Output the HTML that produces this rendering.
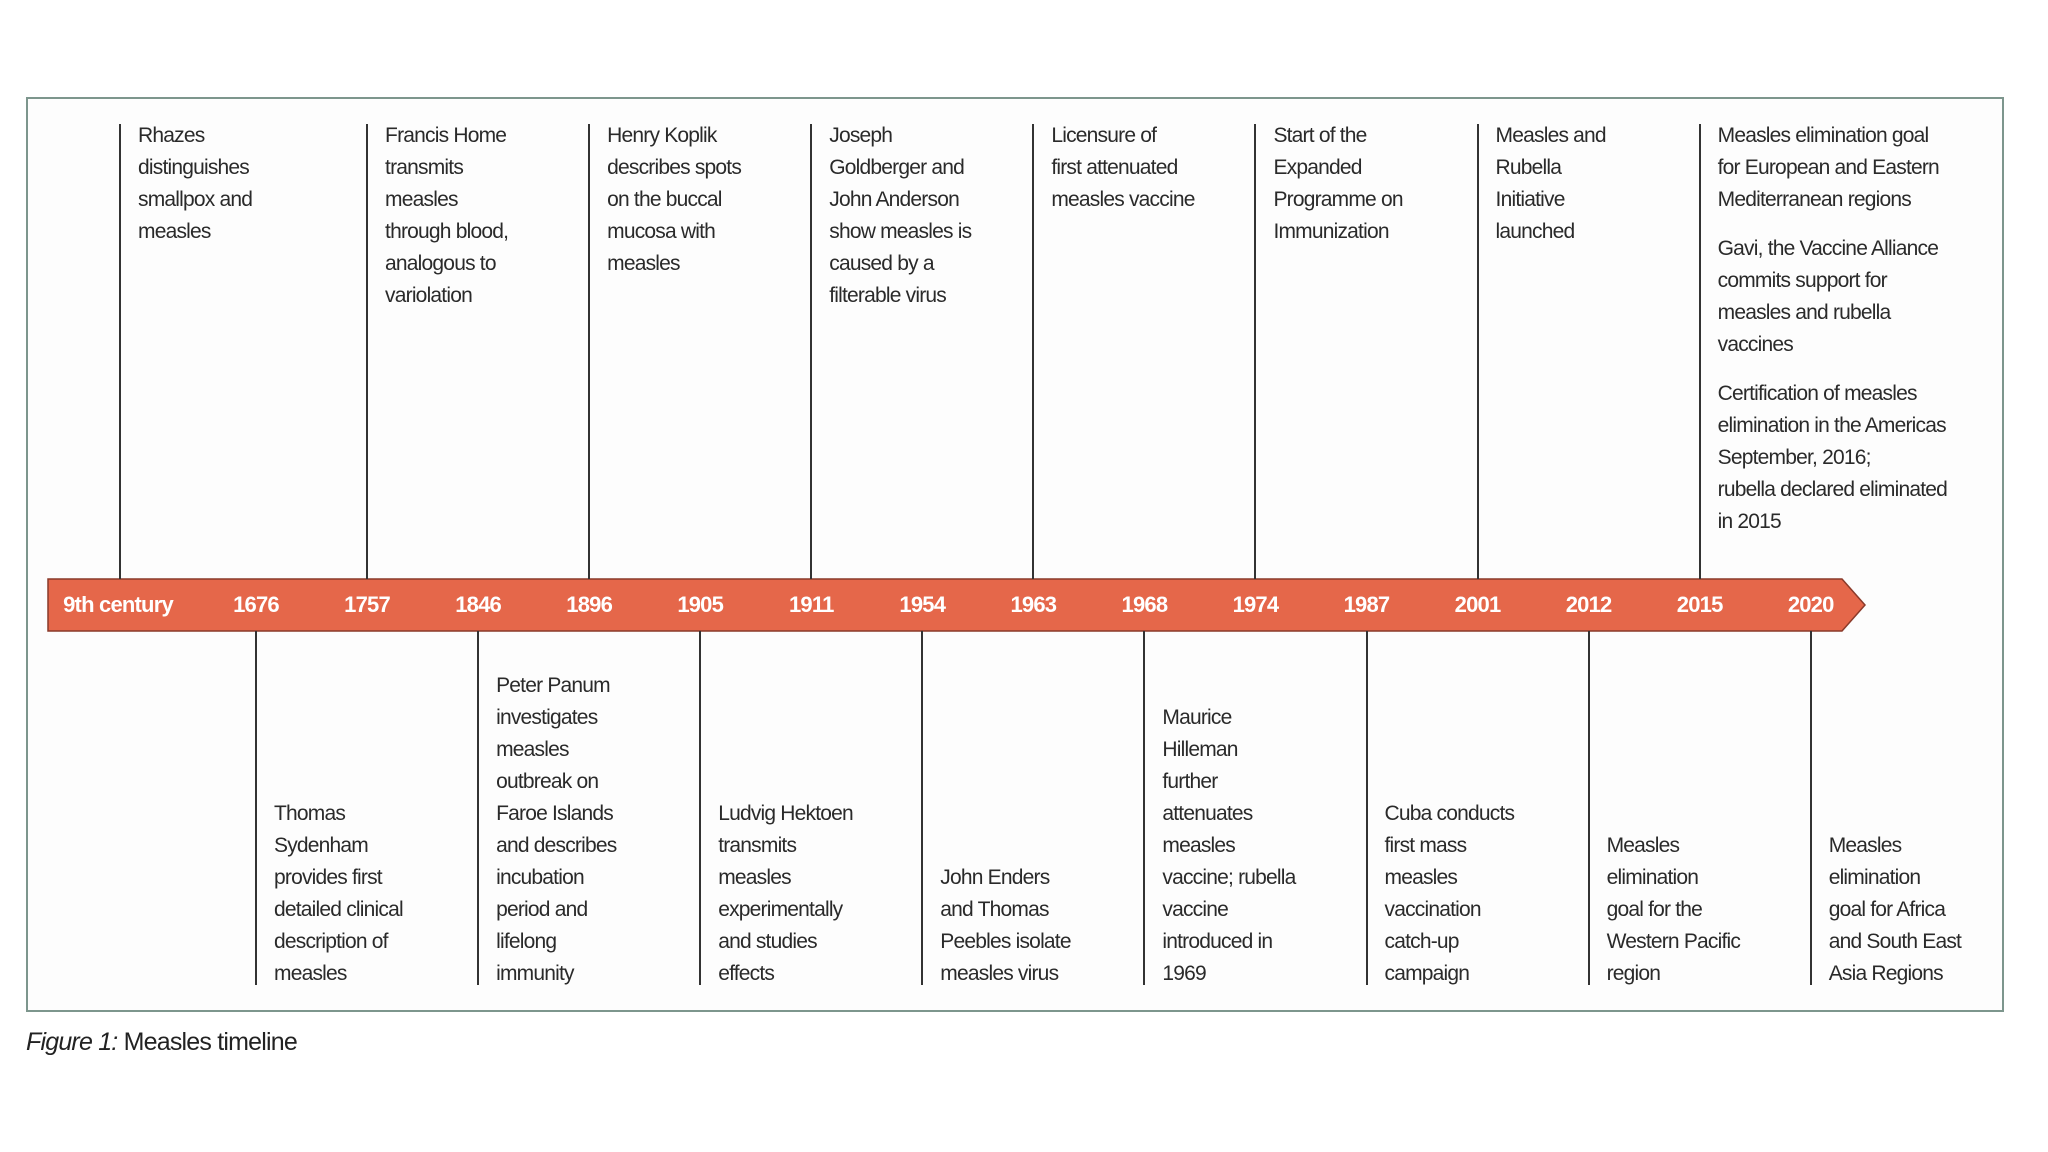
<!DOCTYPE html>
<html><head><meta charset="utf-8">
<style>
body{margin:0;width:2048px;height:1152px;background:#fff;position:relative;overflow:hidden;font-family:"Liberation Sans",sans-serif;}
#frame{position:absolute;left:26px;top:97px;width:1974px;height:911px;border:2px solid #7d968d;box-sizing:content-box;background:#fdfdfd;}
.vline{position:absolute;width:2px;background:#333;}
.ev{position:absolute;font-size:21px;letter-spacing:-0.8px;line-height:32px;color:#2a2a2a;white-space:nowrap;}
.ev p{margin:0 0 17px 0;}
.yr{position:absolute;top:579px;height:52px;line-height:52px;color:#fff;font-weight:bold;font-size:22px;letter-spacing:-0.8px;transform:translateX(-50%);white-space:nowrap;}
#caption{position:absolute;left:26px;top:1028px;font-size:25px;letter-spacing:-0.8px;color:#222;}
</style></head>
<body>
<div id="frame"></div>
<svg id="bar" width="2048" height="1152" style="position:absolute;left:0;top:0">
<polygon points="48,579 1842,579 1865,605 1842,631 48,631" fill="#e5674a" stroke="#8a3a2a" stroke-width="1.5"/>
</svg>
<div id="layer"></div>
<div id="caption"><i>Figure 1:</i> Measles timeline</div>
<script>
const years=["9th century","1676","1757","1846","1896","1905","1911","1954","1963","1968","1974","1987","2001","2012","2015","2020"];
const events=[
["Rhazes<br>distinguishes<br>smallpox and<br>measles"],
["Thomas<br>Sydenham<br>provides first<br>detailed clinical<br>description of<br>measles"],
["Francis Home<br>transmits<br>measles<br>through blood,<br>analogous to<br>variolation"],
["Peter Panum<br>investigates<br>measles<br>outbreak on<br>Faroe Islands<br>and describes<br>incubation<br>period and<br>lifelong<br>immunity"],
["Henry Koplik<br>describes spots<br>on the buccal<br>mucosa with<br>measles"],
["Ludvig Hektoen<br>transmits<br>measles<br>experimentally<br>and studies<br>effects"],
["Joseph<br>Goldberger and<br>John Anderson<br>show measles is<br>caused by a<br>filterable virus"],
["John Enders<br>and Thomas<br>Peebles isolate<br>measles virus"],
["Licensure of<br>first attenuated<br>measles vaccine"],
["Maurice<br>Hilleman<br>further<br>attenuates<br>measles<br>vaccine; rubella<br>vaccine<br>introduced in<br>1969"],
["Start of the<br>Expanded<br>Programme on<br>Immunization"],
["Cuba conducts<br>first mass<br>measles<br>vaccination<br>catch-up<br>campaign"],
["Measles and<br>Rubella<br>Initiative<br>launched"],
["Measles<br>elimination<br>goal for the<br>Western Pacific<br>region"],
["Measles elimination goal<br>for European and Eastern<br>Mediterranean regions","Gavi, the Vaccine Alliance<br>commits support for<br>measles and rubella<br>vaccines","Certification of measles<br>elimination in the Americas<br>September, 2016;<br>rubella declared eliminated<br>in 2015"],
["Measles<br>elimination<br>goal for Africa<br>and South East<br>Asia Regions"]
];
function xAt(i){return i===0?120:256+(i-1)*111.05;}
const layer=document.getElementById('layer');
years.forEach((y,i)=>{
  const x=xAt(i);
  const lab=document.createElement('div');
  lab.className='yr';
  
  
  lab.style.left=(i===0?118:x)+'px';
  lab.textContent=y;
  layer.appendChild(lab);
  const top=i%2===0;
  const ln=document.createElement('div');
  ln.className='vline';
  
  
  ln.style.left=(x-1)+'px';
  if(top){ln.style.top='124px';ln.style.height='455px';}
  else{ln.style.top='631px';ln.style.height='354px';}
  layer.appendChild(ln);
  const ev=document.createElement('div');
  ev.className='ev';
  
  
  ev.style.left=(x+18)+'px';
  ev.innerHTML=events[i].map(p=>'<p>'+p+'</p>').join('');
  if(top){ev.style.top='120px';}
  else{ev.style.bottom='145px';}
  layer.appendChild(ev);
});
</script>
</body></html>
